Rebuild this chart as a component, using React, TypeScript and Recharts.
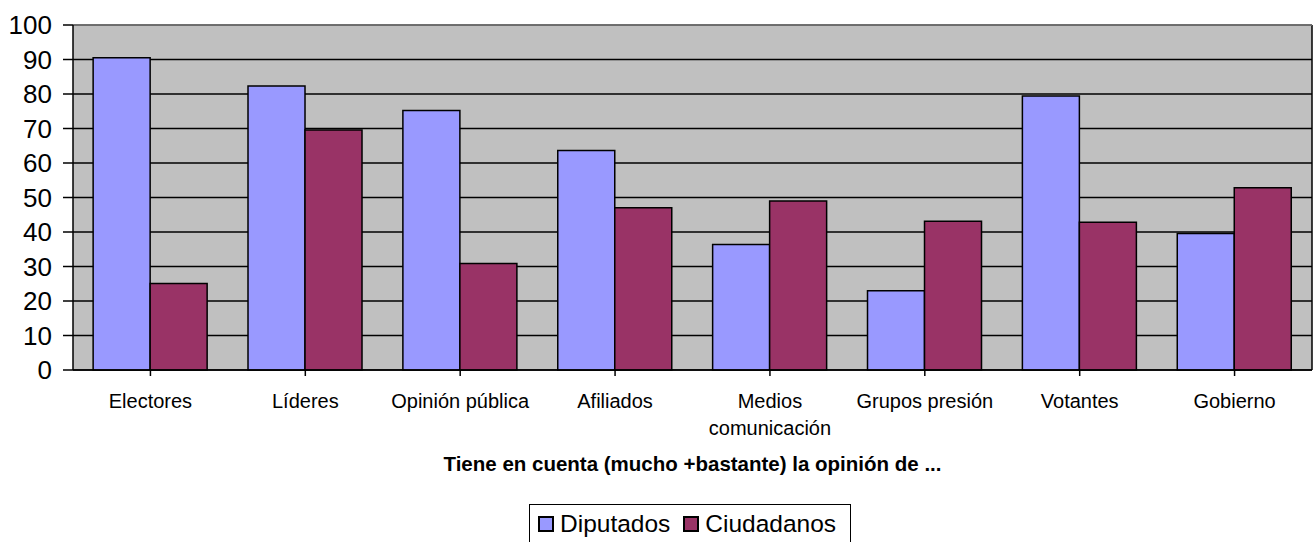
import { BarChart, Bar, XAxis, YAxis, CartesianGrid, Legend, ReferenceLine } from "recharts";

const categories = [
  "Electores",
  "Líderes",
  "Opinión pública",
  "Afiliados",
  "Medios comunicación",
  "Grupos presión",
  "Votantes",
  "Gobierno",
];
const diputados = [90.5, 82.3, 75.2, 63.6, 36.4, 23.0, 79.4, 39.6];
const ciudadanos = [25.1, 69.6, 30.9, 47.0, 49.0, 43.1, 42.8, 52.8];
const yTicks = [0, 10, 20, 30, 40, 50, 60, 70, 80, 90, 100];

const data = categories.map((name, i) => ({
  name,
  Diputados: diputados[i],
  Ciudadanos: ciudadanos[i],
}));

const FONT = '"Liberation Sans", Arial, sans-serif';
const BLUE = "#9999FF";
const PLUM = "#993366";

// long category names go on two lines, short ones stay on one
function wrapLabel(label: string, maxChars = 16): string[] {
  if (label.length <= maxChars) return [label];
  const words = label.split(" ");
  const lines: string[] = [];
  let cur = "";
  for (const w of words) {
    const next = cur ? cur + " " + w : w;
    if (next.length > maxChars && cur) {
      lines.push(cur);
      cur = w;
    } else {
      cur = next;
    }
  }
  if (cur) lines.push(cur);
  return lines;
}

function CategoryTick(props: any) {
  const { x, y, payload } = props;
  const lines = wrapLabel(String(payload.value));
  return (
    <text x={x} y={y + 14} textAnchor="middle" fontSize={20} fontFamily={FONT} fill="#000">
      {lines.map((ln, i) => (
        <tspan key={i} x={x} dy={i === 0 ? 0 : 27}>
          {ln}
        </tspan>
      ))}
    </text>
  );
}

function AxisTitle(props: any) {
  const { viewBox } = props;
  return (
    <text
      x={viewBox.x + viewBox.width / 2}
      y={viewBox.y + 101}
      textAnchor="middle"
      fontSize={20.5}
      fontWeight="bold"
      fontFamily={FONT}
      fill="#000"
    >
      Tiene en cuenta (mucho +bastante) la opinión de ...
    </text>
  );
}

function LegendBox() {
  const items = [
    { label: "Diputados", color: BLUE },
    { label: "Ciudadanos", color: PLUM },
  ];
  return (
    <div style={{ display: "flex", height: 38, paddingLeft: 529 }}>
      <div
        style={{
          display: "flex",
          alignItems: "flex-start",
          border: "1.5px solid #000",
          padding: "5px 14px 0 8px",
          height: 44,
          boxSizing: "border-box",
          background: "#fff",
          fontFamily: FONT,
          fontSize: 24.5,
          lineHeight: "28px",
          color: "#000",
        }}
      >
        {items.map((it, i) => (
          <span
            key={it.label}
            style={{ display: "flex", alignItems: "center", marginLeft: i ? 13 : 0 }}
          >
            <span
              style={{
                display: "inline-block",
                width: 16,
                height: 16,
                boxSizing: "border-box",
                background: it.color,
                border: "2px solid #000",
                marginRight: 6,
              }}
            />
            {it.label}
          </span>
        ))}
      </div>
    </div>
  );
}

export default function App() {
  return (
    <div style={{ position: "absolute", left: 0, top: 0, background: "#fff", overflow: "hidden" }}>
      <BarChart
        width={1315}
        height={542}
        data={data}
        margin={{ top: 25, right: 3, left: 0, bottom: 0 }}
        barCategoryGap="13%"
        barGap={0}
      >
        <CartesianGrid
          fill="#C0C0C0"
          stroke="#000"
          strokeWidth={1.5}
          strokeOpacity={1}
          verticalCoordinatesGenerator={({ offset }: any) => [offset.left + offset.width]}
        />
        <ReferenceLine y={100} stroke="#808080" strokeWidth={1.5} />
        <XAxis
          dataKey="name"
          height={134}
          interval={0}
          tickSize={6}
          tickMargin={18}
          axisLine={{ stroke: "#000", strokeWidth: 1.5 }}
          tickLine={{ stroke: "#000", strokeWidth: 1.5 }}
          tick={<CategoryTick />}
          label={<AxisTitle />}
        />
        <YAxis
          width={73}
          domain={[0, 100]}
          ticks={yTicks}
          interval={0}
          tickSize={10}
          tickMargin={11}
          axisLine={{ stroke: "#000", strokeWidth: 1.5 }}
          tickLine={{ stroke: "#000", strokeWidth: 1.5 }}
          tick={{ fontSize: 26, fontFamily: FONT, fill: "#000" }}
        />
        <Legend
          verticalAlign="bottom"
          content={<LegendBox />}
          wrapperStyle={{ top: 504, bottom: "auto", left: 0, width: 1315 }}
        />
        <Bar dataKey="Diputados" fill={BLUE} stroke="#000" strokeWidth={1.5} isAnimationActive={false} />
        <Bar dataKey="Ciudadanos" fill={PLUM} stroke="#000" strokeWidth={1.5} isAnimationActive={false} />
      </BarChart>
    </div>
  );
}
